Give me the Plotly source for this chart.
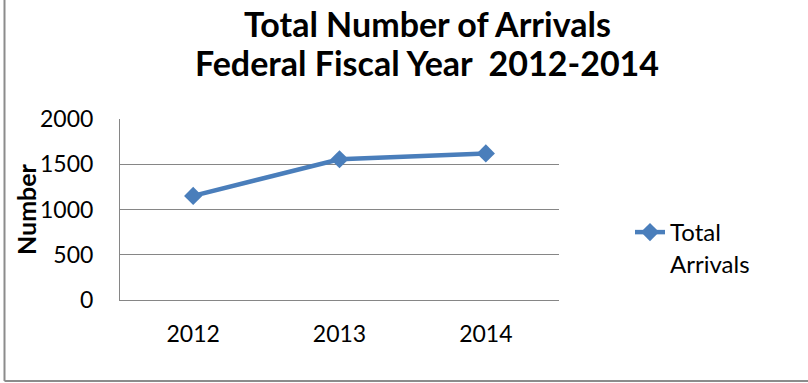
import plotly.graph_objects as go

# Federal fiscal years and total arrivals per year
years = ["2012", "2013", "2014"]
arrivals = [1150, 1555, 1620]

title_lines = ["Total Number of Arrivals", "Federal Fiscal Year\u00a0 2012-2014"]
series_name = "Total<br>Arrivals"
y_title = "Number"
y_ticks = [0, 500, 1000, 1500, 2000]

BLUE = "#4A7EBB"
GRID = "#868686"
FONT = "Lato, 'Open Sans', sans-serif"

W, H = 808, 383
L, R, T, B = 120, 249, 119, 83  # plot area: x 120..559, y 119..300


def px_x(px):
    return (px - L) / (W - L - R)


def px_y(py):
    return (H - B - py) / (H - T - B)


fig = go.Figure(
    go.Scatter(
        x=years,
        y=arrivals,
        mode="lines+markers",
        name=series_name,
        line=dict(color=BLUE, width=4.5),
        marker=dict(symbol="diamond", size=14, color=BLUE),
        showlegend=True,
    )
)

fig.update_layout(
    width=W,
    height=H,
    margin=dict(l=L, r=R, t=T, b=B, autoexpand=False),
    paper_bgcolor="white",
    plot_bgcolor="white",
    font=dict(family=FONT, size=23, color="black"),
    showlegend=True,
    legend=dict(
        x=px_x(630),
        y=px_y(210),
        xanchor="left",
        yanchor="top",
        valign="top",
        font=dict(family=FONT, size=24, color="black"),
        bgcolor="rgba(0,0,0,0)",
    ),
    xaxis=dict(
        type="category",
        range=[-0.5, 2.5],
        showgrid=False,
        showline=True,
        linecolor=GRID,
        linewidth=1,
        ticks="",
        ticklabelstandoff=13,
        tickfont=dict(family=FONT, size=23, color="black"),
        fixedrange=True,
    ),
    yaxis=dict(
        range=[0, 2000],
        tickvals=y_ticks,
        showgrid=True,
        gridcolor=GRID,
        gridwidth=1,
        zeroline=False,
        showline=True,
        linecolor=GRID,
        linewidth=1,
        ticks="",
        ticklabelstandoff=21,
        tickfont=dict(family=FONT, size=23, color="black"),
        fixedrange=True,
    ),
    annotations=[
        dict(
            text="<b>%s</b>" % title_lines[0],
            x=px_x(427), y=px_y(23),
            xref="paper", yref="paper",
            xanchor="center", yanchor="middle",
            showarrow=False,
            font=dict(family=FONT, size=34, color="black"),
        ),
        dict(
            text="<b>%s</b>" % title_lines[1],
            x=px_x(427), y=px_y(62),
            xref="paper", yref="paper",
            xanchor="center", yanchor="middle",
            showarrow=False,
            font=dict(family=FONT, size=34, color="black"),
        ),
        # rotated y-axis caption
        dict(
            text="<b>%s</b>" % y_title,
            x=px_x(26), y=px_y(209),
            xref="paper", yref="paper",
            xanchor="center", yanchor="middle",
            textangle=-90,
            showarrow=False,
            font=dict(family=FONT, size=25, color="black"),
        ),
    ],
    shapes=[
        # outer chart frame (left and bottom edges)
        dict(type="line", xref="paper", yref="paper",
             x0=px_x(4.5), x1=px_x(4.5), y0=px_y(-5), y1=px_y(381),
             line=dict(color="#8C8C8C", width=2)),
        dict(type="line", xref="paper", yref="paper",
             x0=px_x(4.5), x1=px_x(815), y0=px_y(381), y1=px_y(381),
             line=dict(color="#8C8C8C", width=2)),
    ],
)

fig.write_html("out.html", config={"displayModeBar": False})
